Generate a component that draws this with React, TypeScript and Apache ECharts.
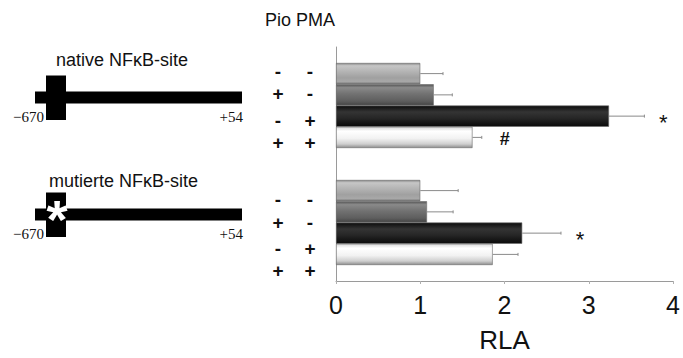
import React, { useEffect, useRef } from "react";
import * as echarts from "echarts";

// ---- data ----
const constructs = ["native NFκB-site", "mutierte NFκB-site"];
const pio = [0, 1, 0, 1];
const pma = [0, 0, 1, 1];
const rlaNative = [1.0, 1.16, 3.24, 1.62];
const errNative = [0.27, 0.22, 0.42, 0.11];
const rlaMut = [1.0, 1.08, 2.21, 1.86];
const errMut = [0.45, 0.31, 0.46, 0.3];
const sigNative = ["", "", "*", "#"];
const sigMut = ["", "", "*", ""];
const xTicks = [0, 1, 2, 3, 4];

const FONT = "'Liberation Sans', Arial, sans-serif";
const SERIF = "'Liberation Serif', 'Times New Roman', serif";
const GAP = 0.273;

const barColors = [
  [
    [0, "#8a8a8a"],
    [0.12, "#c6c6c6"],
    [0.4, "#b4b4b4"],
    [0.7, "#a0a0a0"],
    [0.88, "#a8a8a8"],
    [1, "#7a7a7a"],
  ],
  [
    [0, "#555555"],
    [0.15, "#8a8a8a"],
    [0.45, "#727272"],
    [0.8, "#5e5e5e"],
    [1, "#454545"],
  ],
  [
    [0, "#0c0c0c"],
    [0.3, "#343434"],
    [0.6, "#262626"],
    [1, "#0a0a0a"],
  ],
  [
    [0, "#d8d8d8"],
    [0.2, "#ffffff"],
    [0.55, "#f2f2f2"],
    [0.82, "#cfcfcf"],
    [1, "#8e8e8e"],
  ],
];

function grad(stops: any[]) {
  return new echarts.graphic.LinearGradient(
    0,
    0,
    0,
    1,
    stops.map((s) => ({ offset: s[0], color: s[1] }))
  );
}

// layout for the left-hand constructs and the +/- table
const constructTop = [0, 117];
const signCols = [278, 310];
const signRows = [
  [71, 93, 120, 142],
  [199, 222, 248, 270],
];

export default function App() {
  const ref = useRef<HTMLDivElement>(null);
  useEffect(() => {
    if (!ref.current) return;
    const chart = echarts.init(ref.current, null, { renderer: "svg" });

    const values = [rlaNative, rlaMut];
    const errs = [errNative, errMut];
    const sigs = [sigNative, sigMut];

    const barSeries = [0, 1, 2, 3].map((i) => ({
      type: "bar",
      data: [values[0][i], values[1][i]],
      barGap: "0%",
      barCategoryGap: GAP * 100 + "%",
      itemStyle: {
        color: grad(barColors[i]),
        borderColor: "#6a6a6a",
        borderWidth: 0.6,
      },
      silent: true,
    }));

    const errData: any[] = [];
    for (let c = 0; c < 2; c++)
      for (let i = 0; i < 4; i++)
        errData.push([values[c][i], c, errs[c][i], i, sigs[c][i]]);

    const errSeries = {
      type: "custom",
      data: errData,
      encode: { x: 0, y: 1 },
      z: 5,
      renderItem: (params: any, api: any) => {
        const v = api.value(0);
        const cat = api.value(1);
        const e = api.value(2);
        const idx = api.value(3);
        const sig = errData[params.dataIndex][4];
        const p1 = api.coord([v, cat]);
        const p2 = api.coord([v + e, cat]);
        const band = api.size([0, 1])[1];
        const bw = (band * (1 - GAP)) / 4;
        const y = p1[1] - 2 * bw + (idx + 0.5) * bw;
        const children: any[] = [
          {
            type: "line",
            shape: { x1: p1[0], y1: y, x2: p2[0], y2: y },
            style: { stroke: "#8a8a8a", lineWidth: 1 },
          },
          {
            type: "line",
            shape: { x1: p2[0], y1: y - 1.5, x2: p2[0], y2: y + 1.5 },
            style: { stroke: "#8a8a8a", lineWidth: 1 },
          },
        ];
        if (sig) {
          children.push({
            type: "text",
            x: p2[0] + (sig === "#" ? 23 : 19),
            y: y + (sig === "*" ? 6 : 2),
            style: {
              text: sig,
              fontSize: sig === "*" ? 22 : 18,
              fontWeight: sig === "#" ? "bold" : "normal",
              fontFamily: FONT,
              fill: "#111",
              align: "center",
              verticalAlign: "middle",
            },
          });
        }
        return { type: "group", children };
      },
    };

    const graphics: any[] = [
      {
        type: "text",
        x: 265,
        y: 20,
        style: {
          text: "Pio PMA",
          fontSize: 18,
          fontFamily: FONT,
          fill: "#111",
          verticalAlign: "middle",
        },
      },
    ];
    const titleX = [56, 49];
    const titleY = [60, 181];
    for (let c = 0; c < 2; c++) {
      const t = constructTop[c];
      graphics.push(
        {
          type: "text",
          x: titleX[c],
          y: titleY[c],
          style: {
            text: constructs[c],
            fontSize: 18,
            fontFamily: FONT,
            fill: "#111",
            verticalAlign: "middle",
          },
        },
        {
          type: "rect",
          shape: { x: 35, y: 91.5 + t, width: 207, height: 12 },
          style: { fill: "#000" },
        },
        {
          type: "rect",
          shape: { x: 46, y: 75.5 + t, width: 20, height: 44.5 },
          style: { fill: "#000" },
        },
        {
          type: "text",
          x: 13,
          y: 116.5 + t,
          style: {
            text: "\u2212670",
            fontSize: 15,
            fontFamily: SERIF,
            fill: "#111",
            verticalAlign: "middle",
          },
        },
        {
          type: "text",
          x: 243,
          y: 116.5 + t,
          style: {
            text: "+54",
            fontSize: 15,
            fontFamily: SERIF,
            fill: "#111",
            align: "right",
            verticalAlign: "middle",
          },
        }
      );
      for (let i = 0; i < 4; i++) {
        const flags = [pio[i], pma[i]];
        for (let k = 0; k < 2; k++) {
          graphics.push({
            type: "text",
            x: signCols[k],
            y: signRows[c][i],
            style: {
              text: flags[k] ? "+" : "-",
              fontSize: 19,
              lineHeight: 16,
              fontWeight: "bold",
              fontFamily: FONT,
              fill: "#111",
              align: "center",
              verticalAlign: "middle",
            },
          });
        }
      }
    }
    graphics.push({
      type: "text",
      x: 57,
      y: 219,
      style: {
        text: "*",
        fontSize: 54,
        fontWeight: "bold",
        fontFamily: FONT,
        fill: "#fff",
        align: "center",
        verticalAlign: "middle",
      },
    });

    chart.setOption({
      animation: false,
      grid: { left: 336, right: 3, top: 47, bottom: 65, containLabel: false },
      xAxis: {
        type: "value",
        min: xTicks[0],
        max: xTicks[xTicks.length - 1],
        interval: 1,
        name: "RLA",
        nameLocation: "middle",
        nameGap: 46,
        nameTextStyle: { fontSize: 26, fontFamily: FONT, color: "#111" },
        axisLine: { show: true, lineStyle: { color: "#9a9a9a", width: 1 } },
        axisTick: { show: true, length: 3, lineStyle: { color: "#b0b0b0" } },
        axisLabel: { fontSize: 25, fontFamily: FONT, color: "#111", margin: 11 },
        splitLine: { show: false },
      },
      yAxis: {
        type: "category",
        data: constructs,
        inverse: true,
        axisLine: { show: true, lineStyle: { color: "#9a9a9a", width: 1 } },
        axisTick: { show: false },
        axisLabel: { show: false },
        splitLine: { show: false },
      },
      series: [...barSeries, errSeries],
      graphic: graphics,
    });
    return () => chart.dispose();
  }, []);
  return (
    <div
      ref={ref}
      style={{ position: "absolute", left: 0, top: 0, width: 683, height: 358, background: "#fff" }}
    />
  );
}
